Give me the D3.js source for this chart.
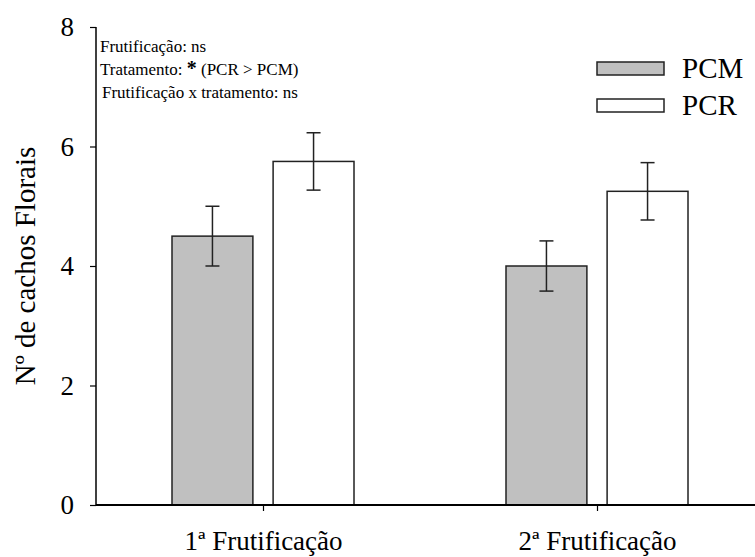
<!DOCTYPE html>
<html>
<head>
<meta charset="utf-8">
<script src="https://cdn.jsdelivr.net/npm/d3@7"></script>
</head>
<body style="margin:0">
<svg id="chart" width="755" height="557"></svg>
<script>
// Number of flower clusters per fruiting cycle and treatment
const categories = ["1ª Frutificação", "2ª Frutificação"];
const treatments = ["PCM", "PCR"];
const pcmValues = [4.5, 4.0];
const pcrValues = [5.75, 5.25];
const pcmErrors = [0.5, 0.42];
const pcrErrors = [0.48, 0.48];
const yTicks = [0, 2, 4, 6, 8];
const notes = ["Frutificação: ns", "Tratamento: ", "Frutificação x tratamento: ns"];

const colors = { PCM: "#c0c0c0", PCR: "#ffffff" };
const SERIF = '"Liberation Serif"';

const svg = d3.select("#chart");

const y = d3.scaleLinear().domain([0, 8]).range([505, 27]);

// Category centres, with the two bars of each group placed side by side
const x = d3.scalePoint().domain(categories).range([263, 597]);
const inner = d3.scaleBand().domain(treatments).range([-91, 91]).paddingInner(0.2).paddingOuter(0);

const rows = [];
categories.forEach((c, i) => {
  rows.push({ cat: c, trt: "PCM", value: pcmValues[i], err: pcmErrors[i] });
  rows.push({ cat: c, trt: "PCR", value: pcrValues[i], err: pcrErrors[i] });
});

// Bars
svg.append("g").selectAll("rect").data(rows).join("rect")
  .attr("x", d => x(d.cat) + inner(d.trt))
  .attr("y", d => y(d.value))
  .attr("width", inner.bandwidth())
  .attr("height", d => y(0) - y(d.value))
  .attr("fill", d => colors[d.trt])
  .attr("stroke", "#222")
  .attr("stroke-width", 1.5);

// Error bars
const capW = 7;
const eb = svg.append("g").attr("stroke", "#222").attr("stroke-width", 1.5);
rows.forEach(d => {
  const cx = x(d.cat) + inner(d.trt) + inner.bandwidth() / 2;
  eb.append("line").attr("x1", cx).attr("x2", cx).attr("y1", y(d.value + d.err)).attr("y2", y(d.value - d.err));
  eb.append("line").attr("x1", cx - capW).attr("x2", cx + capW).attr("y1", y(d.value + d.err)).attr("y2", y(d.value + d.err));
  eb.append("line").attr("x1", cx - capW).attr("x2", cx + capW).attr("y1", y(d.value - d.err)).attr("y2", y(d.value - d.err));
});

// Y axis
const yAxis = svg.append("g").attr("transform", "translate(96,0)")
  .call(d3.axisLeft(y).tickValues(yTicks).tickSize(6).tickPadding(16).tickFormat(d3.format("d")));
yAxis.select(".domain").attr("stroke", "#000").attr("stroke-width", 1.5).attr("d", `M0,${y(8)}V${y(0)}`);
yAxis.selectAll(".tick line").attr("stroke", "#000").attr("stroke-width", 1.2);
yAxis.selectAll(".tick text").style("font-family", SERIF).style("font-size", "27px").attr("fill", "#000");

// X axis
const xAxis = svg.append("g").attr("transform", `translate(0,${y(0)})`)
  .call(d3.axisBottom(x).tickSize(6).tickPadding(20));
xAxis.select(".domain").attr("stroke", "#000").attr("stroke-width", 2).attr("d", `M96,0H755`);
xAxis.selectAll(".tick line").attr("stroke", "#000").attr("stroke-width", 1.2);
xAxis.selectAll(".tick text").style("font-family", SERIF).style("font-size", "27px").attr("fill", "#000");

// Y axis title
svg.append("text")
  .attr("transform", `translate(35,${(y(0) + y(8)) / 2}) rotate(-90)`)
  .attr("text-anchor", "middle")
  .style("font-family", SERIF).style("font-size", "29px")
  .text("Nº de cachos Florais");

// Statistical notes
const noteG = svg.append("g").style("font-family", SERIF).style("font-size", "17px");
noteG.append("text").attr("x", 100).attr("y", 52).text(notes[0]);
const t2 = noteG.append("text").attr("x", 100).attr("y", 75);
t2.append("tspan").text(notes[1]);
t2.append("tspan").style("font-weight", "bold").style("font-size", "20px").text("*");
t2.append("tspan").text(" (PCR > PCM)");
noteG.append("text").attr("x", 102).attr("y", 98).text(notes[2]);

// Legend
const legend = svg.append("g");
treatments.forEach((t, i) => {
  const ly = 62 + i * 37;
  legend.append("rect").attr("x", 597).attr("y", ly).attr("width", 67).attr("height", 13)
    .attr("fill", colors[t]).attr("stroke", "#222").attr("stroke-width", 1.5);
  legend.append("text").attr("x", 682).attr("y", ly + 16)
    .style("font-family", SERIF).style("font-size", "29px").text(t);
});
</script>
</body>
</html>
